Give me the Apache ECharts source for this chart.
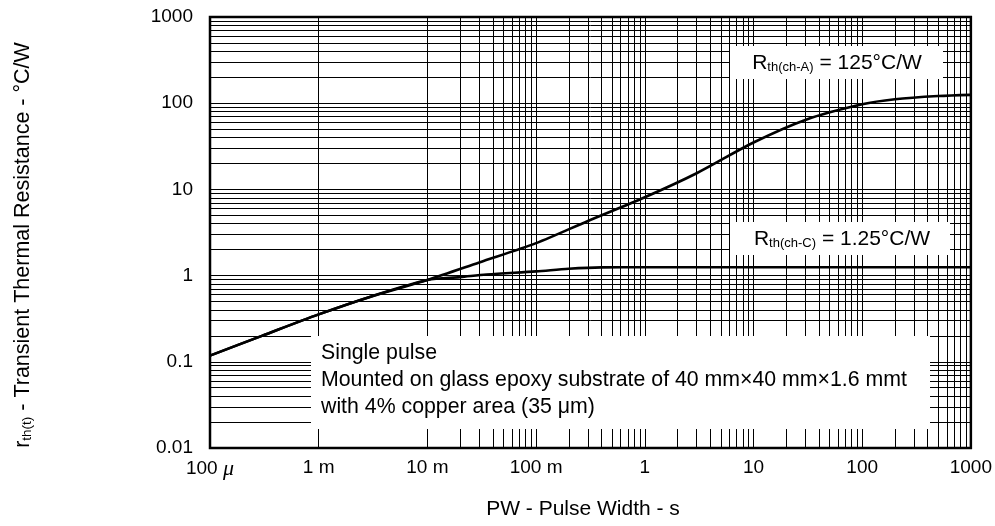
<!DOCTYPE html>
<html><head><meta charset="utf-8">
<script src="https://cdn.jsdelivr.net/npm/echarts@6/dist/echarts.min.js"></script>
<style>html,body{margin:0;padding:0;background:#fff}#c{width:995px;height:526px}</style>
</head><body><div id="c"></div>
<script>
const xTickLabels = ['100 {mu|μ}', '1 m', '10 m', '100 m', '1', '10', '100', '1000'];
const yTickLabels = ['0.01', '0.1', '1', '10', '100', '1000'];
const pulseWidthA = [1e-4, 3e-4, 1e-3, 3e-3, 1e-2, 3e-2, 0.1, 0.3, 1, 3, 10, 30, 100, 200, 500, 1000];
const rthA = [0.118, 0.2, 0.355, 0.57, 0.89, 1.42, 2.38, 4.3, 8.1, 15.4, 35, 64, 97, 111, 121, 125];
const pulseWidthC = [1e-4, 3e-4, 1e-3, 3e-3, 1e-2, 0.02, 0.035, 0.1, 0.2, 0.4, 1, 10, 100, 1000];
const rthC = [0.118, 0.2, 0.355, 0.57, 0.89, 0.96, 1.03, 1.12, 1.2, 1.245, 1.25, 1.25, 1.25, 1.25];
const labelA = '{r|R}{s|th(ch-A)}{r| = 125°C/W}';
const labelC = '{r|R}{s|th(ch-C)}{r| = 1.25°C/W}';
const noteLines = ['Single pulse', 'Mounted on glass epoxy substrate of 40 mm×40 mm×1.6 mmt', 'with 4% copper area (35 μm)'];
const xTitle = 'PW - Pulse Width - s';
const yTitle = '{r|r}{s|th(t)}{r| - Transient Thermal Resistance - °C/W}';

const FONT = '"Liberation Sans", Arial, sans-serif';
const minorX = [], minorY = [];
for (let d = -4; d <= 2; d++) for (let k = 2; k <= 9; k++) minorX.push(k * Math.pow(10, d));
for (let d = -2; d <= 2; d++) for (let k = 2; k <= 9; k++) minorY.push(k * Math.pow(10, d));

const richBig = { fontSize: 21, fontFamily: FONT, fill: '#000', verticalAlign: 'bottom', lineHeight: 22 };
const richSub = { fontSize: 13, fontFamily: FONT, fill: '#000', verticalAlign: 'bottom', lineHeight: 13 };

const chart = echarts.init(document.getElementById('c'), null, { renderer: 'canvas' });
chart.setOption({
  animation: false,
  backgroundColor: '#fff',
  grid: { left: 210, top: 17, right: 24, bottom: 78, show: true, borderColor: '#000', borderWidth: 2.5, backgroundColor: 'transparent' },
  xAxis: {
    type: 'log', logBase: 10, min: 1e-4, max: 1000, interval: 1, splitNumber: 7,
    axisLine: { show: false }, axisTick: { show: false },
    splitLine: { show: true, lineStyle: { color: '#000', width: 1 } },
    axisLabel: {
      margin: 10, color: '#000', fontSize: 19, fontFamily: FONT,
      formatter: v => xTickLabels[Math.round(Math.log10(v)) + 4],
      rich: { mu: { fontStyle: 'italic', fontFamily: '"Liberation Serif", serif', fontSize: 22, color: '#000' } }
    }
  },
  yAxis: {
    type: 'log', logBase: 10, min: 0.01, max: 1000, interval: 1, splitNumber: 5,
    axisLine: { show: false }, axisTick: { show: false },
    splitLine: { show: true, lineStyle: { color: '#000', width: 1 } },
    axisLabel: {
      margin: 17, color: '#000', fontSize: 19, fontFamily: FONT,
      formatter: v => yTickLabels[Math.round(Math.log10(v)) + 2]
    }
  },
  series: [
    {
      type: 'line', data: [], z: 1, silent: true,
      markLine: {
        silent: true, symbol: ['none', 'none'], label: { show: false },
        lineStyle: { color: '#000', width: 1, type: 'solid' },
        emphasis: { disabled: true },
        data: minorX.map(v => ({ xAxis: v })).concat(minorY.map(v => ({ yAxis: v })))
      }
    },
    {
      name: 'Rth(ch-A)', type: 'line', z: 5, smooth: 0.3, showSymbol: false, symbol: 'none',
      lineStyle: { color: '#000', width: 2.6 },
      data: pulseWidthA.map((x, i) => [x, rthA[i]])
    },
    {
      name: 'Rth(ch-C)', type: 'line', z: 5, smooth: 0.3, showSymbol: false, symbol: 'none',
      lineStyle: { color: '#000', width: 2.6 },
      data: pulseWidthC.map((x, i) => [x, rthC[i]])
    }
  ],
  graphic: {
    elements: [
      { type: 'rect', z: 100, shape: { x: 730, y: 46, width: 213, height: 33 }, style: { fill: '#fff' } },
      { type: 'text', z: 101, x: 837, y: 63, style: { text: labelA, align: 'center', verticalAlign: 'middle', rich: { r: richBig, s: richSub } } },
      { type: 'rect', z: 100, shape: { x: 730, y: 222, width: 220, height: 33 }, style: { fill: '#fff' } },
      { type: 'text', z: 101, x: 842, y: 239, style: { text: labelC, align: 'center', verticalAlign: 'middle', rich: { r: richBig, s: richSub } } },
      { type: 'rect', z: 100, shape: { x: 311, y: 336, width: 619, height: 93 }, style: { fill: '#fff' } },
      { type: 'text', z: 101, x: 321, y: 353, style: { text: noteLines[0], font: '21.3px ' + FONT, fill: '#000', align: 'left', verticalAlign: 'middle' } },
      { type: 'text', z: 101, x: 321, y: 380, style: { text: noteLines[1], font: '21.3px ' + FONT, fill: '#000', align: 'left', verticalAlign: 'middle' } },
      { type: 'text', z: 101, x: 321, y: 407, style: { text: noteLines[2], font: '21.3px ' + FONT, fill: '#000', align: 'left', verticalAlign: 'middle' } },
      { type: 'text', z: 101, x: 583, y: 509, style: { text: xTitle, font: '21px ' + FONT, fill: '#000', align: 'center', verticalAlign: 'middle' } },
      { type: 'text', z: 101, x: 23, y: 245, rotation: Math.PI / 2, style: { text: yTitle, align: 'center', verticalAlign: 'middle', rich: { r: Object.assign({}, richBig, { fontSize: 21.5 }), s: Object.assign({}, richSub, { fontSize: 13.5 }) } } }
    ]
  }
});
</script></body></html>
